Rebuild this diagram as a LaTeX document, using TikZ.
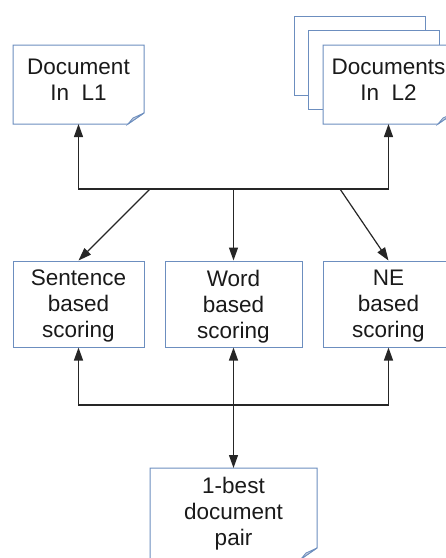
\documentclass[tikz,border=0pt]{standalone}
\usepackage{fontspec}
\setmainfont{Liberation Sans}
\usepackage{tikz}
\usepackage{xcolor}
\usetikzlibrary{arrows.meta,backgrounds}
\definecolor{boxblue}{HTML}{6C8EBF}
\definecolor{foldgray}{HTML}{C8D0DC}
\definecolor{txt}{HTML}{1A1A1A}
\definecolor{wire}{HTML}{262626}
\tikzset{
  page/.style={fill=white,inner sep=0pt,outer sep=0pt,minimum width=131pt,align=center,text=txt,font=\fontsize{22.5pt}{26pt}\selectfont},
  pageline/.style={draw=boxblue,line width=1pt,line join=miter},
  scorebox/.style={draw=boxblue,line width=1pt,fill=white,inner sep=0pt,minimum height=86pt,text depth=0pt,align=center,text=txt,font=\fontsize{22.5pt}{26pt}\selectfont},
  link/.style={draw=wire,line width=1.2pt,-{Triangle[length=13pt,width=9pt]}}
}
\begin{document}
\begin{tikzpicture}[x=1pt,y=-1pt]
\useasboundingbox (0,0) rectangle (446,558);
\node[page,minimum height=79pt,text depth=9pt] (docone) at (78.5,84.5) {Document\\In~~L1};
\node[page,minimum height=79pt,text depth=9pt] (doctwo) at (388.5,84.5) {Documents\\In~~L2};
\node[page,minimum width=167pt,minimum height=91pt] (best) at (233.5,513.5) {1-best\\document\\pair};
\begin{scope}[on background layer]
\draw[pageline,fill=white] ([shift={(-29,-29)}]doctwo.south west) rectangle ([shift={(-29,-29)}]doctwo.north east);
\draw[pageline,fill=white] ([shift={(-15,-15)}]doctwo.south west) rectangle ([shift={(-15,-15)}]doctwo.north east);
\end{scope}
\foreach \n in {docone,doctwo,best} {\draw[pageline] (\n.north west)--(\n.north east)--([yshift=11pt]\n.south east)--([xshift=-16pt]\n.south east)--(\n.south west)--cycle;
\draw[pageline,fill=foldgray,line width=0.8pt] ([yshift=11pt]\n.south east)--([xshift=-11pt,yshift=6pt]\n.south east)--([xshift=-16pt]\n.south east)--cycle;}
\node[scorebox,minimum width=131pt] (sent) at (78.5,304) {Sentence\\based\\scoring};
\node[scorebox,minimum width=137pt] (word) at (233.5,304) {Word\\based\\scoring};
\node[scorebox,minimum width=131pt] (ne) at (388.5,304) {NE\\based\\scoring};
\coordinate (tj) at (233.5,189);\coordinate (tl) at (150,189);\coordinate (tr) at (340,189);
\coordinate (bj) at (233.5,405);
\draw[link] (tj) -| (docone);\draw[link] (tj) -| (doctwo);
\draw[link] (tl) -- (sent.north);\draw[link] (tj) -- (word);
\draw[link] (tr) -- (ne.north);
\draw[link] (bj) -| (sent);\draw[link] (bj) -| (ne);
\draw[link] (bj) -- (word);\draw[link] (bj) -- (best);
\end{tikzpicture}
\end{document}
